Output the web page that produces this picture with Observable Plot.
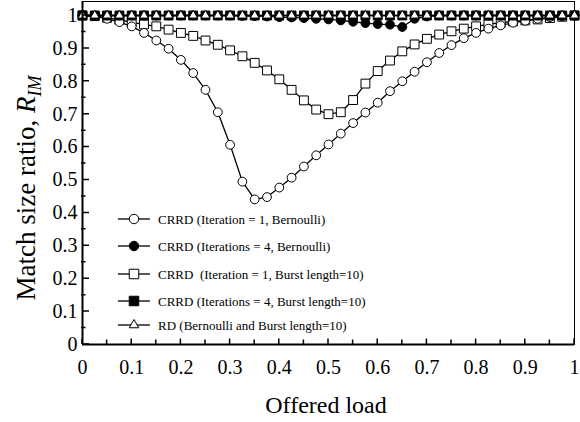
<!DOCTYPE html>
<html><head><meta charset="utf-8">
<script src="https://cdn.jsdelivr.net/npm/d3@7"></script>
<script src="https://cdn.jsdelivr.net/npm/@observablehq/plot@0.6"></script>
<style>body{margin:0;background:#fff} svg{display:block}</style>
</head><body><div id="chart"></div>
<script>
// Offered load grid (x)
const load = [0,0.025,0.05,0.075,0.1,0.125,0.15,0.175,0.2,0.225,0.25,0.275,0.3,0.325,0.35,0.375,0.4,0.425,0.45,0.475,0.5,0.525,0.55,0.575,0.6,0.625,0.65,0.675,0.7,0.725,0.75,0.775,0.8,0.825,0.85,0.875,0.9,0.925,0.95,0.975,1];

// Match size ratio R_IM per series
const crrd1Bern = [1.0,0.998,0.99,0.98,0.967,0.947,0.924,0.899,0.865,0.825,0.774,0.706,0.607,0.495,0.441,0.448,0.477,0.507,0.541,0.575,0.608,0.641,0.673,0.705,0.735,0.77,0.8,0.829,0.858,0.886,0.91,0.931,0.947,0.96,0.97,0.978,0.984,0.99,0.995,0.998,1.0];
const crrd4Bern = [1,1,1,1,1,1,1,1,1,1,1,1,1,0.999,0.998,0.997,0.995,0.994,0.992,0.99,0.988,0.985,0.981,0.977,0.974,0.972,0.965,0.99,0.997,1,1,1,1,1,1,1,1,1,1,1,1];
const crrd1Burst = [1.0,0.998,0.993,0.987,0.979,0.973,0.967,0.957,0.947,0.938,0.924,0.911,0.894,0.876,0.856,0.833,0.806,0.774,0.742,0.714,0.700,0.706,0.743,0.793,0.831,0.863,0.891,0.912,0.929,0.942,0.952,0.96,0.967,0.973,0.978,0.982,0.985,0.988,0.992,0.996,1.0];
const crrd4Burst = [1,1,1,1,1,1,1,1,1,1,1,1,1,1,1,1,1,1,1,1,1,1,1,1,1,1,1,1,1,1,1,1,1,1,1,1,1,1,1,1,1];
const rdAll = [1,1,1,1,1,1,1,1,1,1,1,1,1,1,1,1,1,1,1,1,1,1,1,1,1,1,1,1,1,1,1,1,1,1,1,1,1,1,1,1,1];

const seriesNames = [
  "CRRD (Iteration = 1, Bernoulli)",
  "CRRD (Iterations = 4, Bernoulli)",
  "CRRD  (Iteration = 1, Burst length=10)",
  "CRRD (Iterations = 4, Burst length=10)",
  "RD (Bernoulli and Burst length=10)"
];

const xTicks = [0,0.1,0.2,0.3,0.4,0.5,0.6,0.7,0.8,0.9,1];
const xTickLabels = ["0","0.1","0.2","0.3","0.4","0.5","0.6","0.7","0.8","0.9","1"];
const xMinor = [0.05,0.15,0.25,0.35,0.45,0.55,0.65,0.75,0.85,0.95];
const yTicks = [0,0.1,0.2,0.3,0.4,0.5,0.6,0.7,0.8,0.9,1];
const yTickLabels = ["0","0.1","0.2","0.3","0.4","0.5","0.6","0.7","0.8","0.9","1"];
const yMinor = [0.05,0.15,0.25,0.35,0.45,0.55,0.65,0.75,0.85,0.95];

const xTitle = "Offered load";
const yTitle = "Match size ratio, ";
const yTitleSym = "R";
const yTitleSub = "IM";

// styles (not data)
const styles = [
  {symbol: "circle", fill: "white", r: 4.4},
  {symbol: "circle", fill: "black", r: 4.4},
  {symbol: "square", fill: "white", r: 5.0},
  {symbol: "square", fill: "black", r: 5.0},
  {symbol: "triangle", fill: "white", r: 3.3}
];
const allValues = [crrd1Bern, crrd4Bern, crrd1Burst, crrd4Burst, rdAll];
const tables = allValues.map((vals, i) => load.map((x, j) => ({load: x, value: vals[j], series: seriesNames[i]})));

const W = 580, H = 422, mL = 82, mR = 6, mT = 1, mB = 78;
const yMax = 1.0425;

const drawOrder = [2, 0, 1, 3, 4];
const seriesMarks = [];
for (const i of drawOrder) {
  seriesMarks.push(Plot.line(tables[i], {x: "load", y: "value", stroke: "black", strokeWidth: 1.3}));
  seriesMarks.push(Plot.dot(tables[i], {x: "load", y: "value", symbol: () => styles[i].symbol, r: styles[i].r, fill: styles[i].fill, stroke: "black", strokeWidth: 1}));
}

const chart = Plot.plot({
  width: W, height: H,
  marginLeft: mL, marginRight: mR, marginTop: mT, marginBottom: mB,
  style: {fontFamily: "Liberation Serif", fontSize: "20px", background: "white", color: "black"},
  x: {domain: [0, 1]},
  y: {domain: [0, yMax]},
  symbol: {domain: ["circle", "square", "triangle"], range: ["circle", "square", "triangle"]},
  marks: [
    Plot.frame({stroke: "black", strokeWidth: 1}),
    Plot.axisX({ticks: xTicks, tickSize: 0, tickPadding: 15, tickFormat: (d, i) => xTickLabels[i], label: null}),
    Plot.axisY({ticks: yTicks, tickSize: 0, tickPadding: 5, tickFormat: (d, i) => yTickLabels[i], label: null}),
    ...seriesMarks,
    Plot.ruleX([0], {stroke: "black", strokeWidth: 2}),
    Plot.ruleY([0], {stroke: "black", strokeWidth: 2})
  ]
});
document.getElementById("chart").append(chart);

const svg = d3.select(chart.tagName.toLowerCase() === "svg" ? chart : chart.querySelector("svg"));
const sx = chart.scale("x"), sy = chart.scale("y");
const x0 = +sx.apply(0), y0 = +sy.apply(0);

// inward tick marks positioned by the Plot scales, drawn as one path
let tickPath = "";
yTicks.forEach(v => { tickPath += `M${x0},${+sy.apply(v)}h7`; });
yMinor.forEach(v => { tickPath += `M${x0 - 1},${+sy.apply(v)}h4.5`; });
xTicks.forEach(v => { tickPath += `M${+sx.apply(v)},${y0}v-5.5`; });
xMinor.forEach(v => { tickPath += `M${+sx.apply(v)},${y0}v-4.5`; });
svg.append("path").attr("d", tickPath).attr("fill", "none").attr("stroke", "black").attr("stroke-width", 1.5);

// axis titles
svg.append("text")
  .attr("x", 326).attr("y", 413)
  .attr("text-anchor", "middle")
  .style("font-family", "Liberation Serif").style("font-size", "24px")
  .text(xTitle);

const yt = svg.append("text")
  .attr("transform", `translate(35,188) rotate(-90)`)
  .attr("text-anchor", "middle")
  .style("font-family", "Liberation Serif").style("font-size", "27px");
yt.append("tspan").text(yTitle);
yt.append("tspan").style("font-style", "italic").text(yTitleSym);
yt.append("tspan").style("font-style", "italic").style("font-size", "18px").attr("dy", 6).text(yTitleSub);

// legend
const symMap = {circle: d3.symbolCircle, square: d3.symbolSquare, triangle: d3.symbolTriangle};
const legY = [219, 246, 274, 301, 325];
const lg = svg.append("g").style("font-family", "Liberation Serif").style("font-size", "13px");
seriesNames.forEach((name, i) => {
  const g = lg.append("g").attr("transform", `translate(0,${legY[i]})`);
  g.append("line").attr("x1", 118).attr("x2", 150).attr("y1", 0).attr("y2", 0).attr("stroke", "black").attr("stroke-width", 1.3);
  g.append("path").attr("transform", "translate(134,0)")
    .attr("d", d3.symbol(symMap[styles[i].symbol], Math.PI * styles[i].r * styles[i].r * 1.15)())
    .attr("fill", styles[i].fill).attr("stroke", "black").attr("stroke-width", 1);
  g.append("text").attr("x", 158).attr("y", 0).attr("dy", "0.35em").attr("text-anchor", "start").text(name);
});
</script>
</body></html>
